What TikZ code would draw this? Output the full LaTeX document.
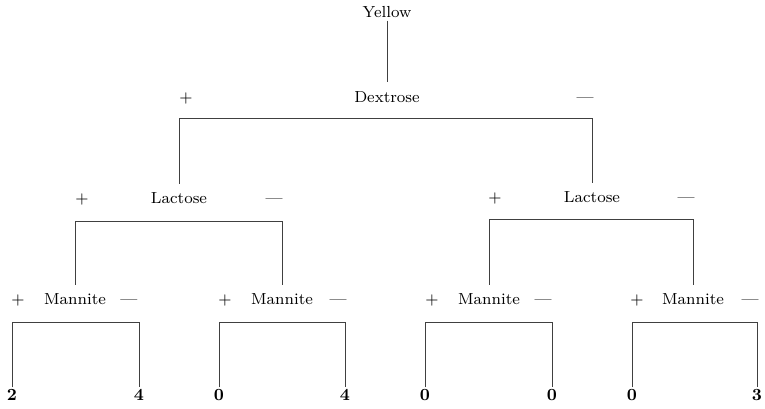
\documentclass[tikz,border=0pt]{standalone}
\begin{document}
\begin{tikzpicture}[x=0.5pt,y=-0.5pt,
  lbl/.style={inner sep=0pt,anchor=base,font=\fontsize{8}{9}\selectfont},
  sgn/.style={inner sep=0pt,anchor=base,font=\fontsize{8}{9}\selectfont},
  num/.style={inner sep=0pt,anchor=base,font=\fontsize{8.5}{9}\selectfont\bfseries},
  ln/.style={draw=black!75,line width=0.45pt}]
\useasboundingbox (0,0) rectangle (765,408);
% level 0
\node[lbl] (yel) at (387,17) {Yellow};
% level 1
\node[lbl] (dex) at (387,102) {Dextrose};
\node[sgn] (dp) at (186,102) {$+$};
\node[sgn] (dm) at (585,102) {---};
\coordinate (db) at (0,118);
% level 2
\node[lbl] (lacL) at (179,203) {Lactose};
\node[sgn] (lLp) at (82,203) {$+$};
\node[sgn] (lLm) at (274,203) {---};
\node[lbl] (lacR) at (592,202) {Lactose};
\node[sgn] (lRp) at (495,202) {$+$};
\node[sgn] (lRm) at (686,202) {---};
\coordinate (lbL) at (0,221);
\coordinate (lbR) at (0,219);
% level 3
\node[lbl] (mLL) at (75,304) {Mannite};
\node[sgn] at (18,304) {$+$};
\node[sgn] at (129,304) {---};
\node[lbl] (mLR) at (282,304) {Mannite};
\node[sgn] at (225,304) {$+$};
\node[sgn] at (338,304) {---};
\node[lbl] (mRL) at (489,304) {Mannite};
\node[sgn] at (432,304) {$+$};
\node[sgn] at (543,304) {---};
\node[lbl] (mRR) at (693,304) {Mannite};
\node[sgn] at (637,304) {$+$};
\node[sgn] at (750,304) {---};
\coordinate (mb) at (0,322);
% level 4
\node[num] (n1) at (12,400) {2};
\node[num] (n2) at (139,400) {4};
\node[num] (n3) at (219,400) {0};
\node[num] (n4) at (345,400) {4};
\node[num] (n5) at (425,400) {0};
\node[num] (n6) at (552,400) {0};
\node[num] (n7) at (632,400) {0};
\node[num] (n8) at (757,400) {3};
% connectors
\draw[ln,shorten <=1.5pt,shorten >=4.5pt] (yel.south) -- (dex.north);
\draw[ln] ([yshift=4pt]lacL.north) -- (lacL.north |- db) -- (lacR.north |- db) -- ([yshift=4pt]lacR.north);
\draw[ln] ([yshift=4pt]mLL.north) -- (mLL.north |- lbL) -- (mLR.north |- lbL) -- ([yshift=4pt]mLR.north);
\draw[ln] ([yshift=4pt]mRL.north) -- (mRL.north |- lbR) -- (mRR.north |- lbR) -- ([yshift=4pt]mRR.north);
\foreach \a/\b in {n1/n2,n3/n4,n5/n6,n7/n8}{
  \draw[ln] ([yshift=0.5pt]\a.north) -- (\a.north |- mb) -- (\b.north |- mb) -- ([yshift=0.5pt]\b.north);
}
\end{tikzpicture}
\end{document}
